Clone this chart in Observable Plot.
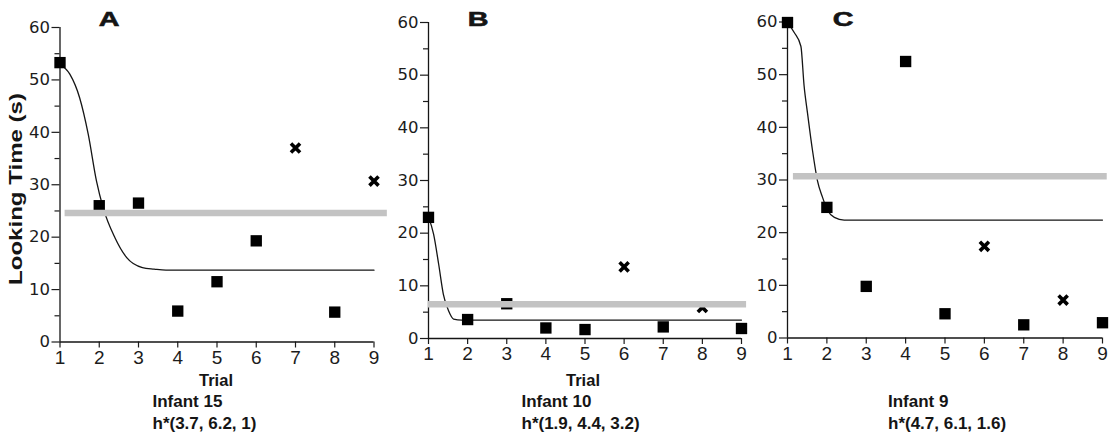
<!DOCTYPE html>
<html><head><meta charset="utf-8">
<script src="https://cdn.jsdelivr.net/npm/d3@7"></script>
<script src="https://cdn.jsdelivr.net/npm/@observablehq/plot@0.6"></script>
<style>
body{margin:0;background:#fff;}
#wrap{position:relative;width:1119px;height:435px;overflow:hidden;font-family:"Liberation Sans",Arial,sans-serif;color:#151515;}
.panel{position:absolute;top:0;}
.lbl{position:absolute;white-space:nowrap;line-height:1;font-weight:bold;}
</style></head><body><div id="wrap"></div>
<script>
// ---- shared ticks / labels ----
const trials = [1, 2, 3, 4, 5, 6, 7, 8, 9];
const yTicks = [0, 10, 20, 30, 40, 50, 60];
const yMinorTicks = [5, 15, 25, 35, 45, 55];
const panelLetters = ["A", "B", "C"];
const infantNames = ["Infant 15", "Infant 10", "Infant 9"];
const hParams = ["h*(3.7, 6.2, 1)", "h*(1.9, 4.4, 3.2)", "h*(4.7, 6.1, 1.6)"];
const yAxisTitle = "Looking Time (s)";
const xAxisTitle = "Trial";

// ---- Panel A (Infant 15) ----
const aSquareTrials = [1, 2, 3, 4, 5, 6, 8];
const aSquareTimes = [53.3, 26.0, 26.5, 5.9, 11.5, 19.3, 5.7];
const aCrossTrials = [7, 9];
const aCrossTimes = [37.0, 30.7];
const aCurveTrials = [1, 1.25, 1.5, 1.72, 1.93, 2.1, 2.4, 2.7, 3.1, 3.4, 3.7, 9];
const aCurveTimes = [53.0, 51.1, 46.6, 39.6, 30.7, 25.6, 19.9, 16.1, 14.2, 13.9, 13.7, 13.7];
const aMean = [24.6], aMeanFrom = [1.13], aMeanTo = [9.34];

// ---- Panel B (Infant 10) ----
const bSquareTrials = [1, 2, 3, 4, 5, 7, 9];
const bSquareTimes = [23.0, 3.6, 6.6, 2.0, 1.7, 2.2, 1.9];
const bCrossTrials = [6, 8];
const bCrossTimes = [13.6, 5.9];
const bCurveTrials = [1, 1.13, 1.26, 1.38, 1.51, 1.64, 1.85, 9];
const bCurveTimes = [23.1, 19.8, 14.1, 8.4, 5.3, 3.7, 3.5, 3.5];
const bMean = [6.5], bMeanFrom = [1.0], bMeanTo = [9.13];

// ---- Panel C (Infant 9) ----
const cSquareTrials = [1, 2, 3, 4, 5, 7, 9];
const cSquareTimes = [59.9, 24.8, 9.8, 52.5, 4.6, 2.5, 2.9];
const cCrossTrials = [6, 8];
const cCrossTimes = [17.4, 7.2];
const cCurveTrials = [1, 1.17, 1.34, 1.42, 1.51, 1.635, 1.76, 1.89, 2.02, 2.19, 2.44, 9];
const cCurveTimes = [60.0, 58.0, 55.4, 48.0, 42.6, 35.6, 29.9, 26.7, 24.2, 22.9, 22.4, 22.4];
const cMean = [30.7], cMeanFrom = [1.15], cMeanTo = [9.12];

const rows = (xs, ys) => xs.map((x, i) => ({trial: x, time: ys[i]}));
const meanRows = (lv, f, t) => lv.map((l, i) => ({level: l, from: f[i], to: t[i]}));

const panels = [
  {left: 0,   w: 395, ml: 59.5, mr: 21.5, mt: 27,   mb: 93.5,
   sq: rows(aSquareTrials, aSquareTimes), cr: rows(aCrossTrials, aCrossTimes),
   curve: rows(aCurveTrials, aCurveTimes), mean: meanRows(aMean, aMeanFrom, aMeanTo)},
  {left: 390, w: 360, ml: 38,   mr: 9,    mt: 22,   mb: 97,
   sq: rows(bSquareTrials, bSquareTimes), cr: rows(bCrossTrials, bCrossTimes),
   curve: rows(bCurveTrials, bCurveTimes), mean: meanRows(bMean, bMeanFrom, bMeanTo)},
  {left: 750, w: 369, ml: 37,   mr: 17,   mt: 21.5, mb: 97.5,
   sq: rows(cSquareTrials, cSquareTimes), cr: rows(cCrossTrials, cCrossTimes),
   curve: rows(cCurveTrials, cCurveTimes), mean: meanRows(cMean, cMeanFrom, cMeanTo)}
];

const wrap = document.getElementById("wrap");

panels.forEach(p => {
  const chart = Plot.plot({
    width: p.w, height: 435,
    marginLeft: p.ml, marginRight: p.mr, marginTop: p.mt, marginBottom: p.mb,
    style: {background: "transparent", overflow: "visible", color: "#1c1c1c"},
    x: {domain: [1, 9]},
    y: {domain: [0, 60]},
    marks: [
      Plot.axisY({ticks: yTicks, tickSize: 8, tickPadding: 2, fontSize: 16.5, fontFamily: "DejaVu Sans", label: null, strokeWidth: 1.2}),
      Plot.axisY({ticks: yMinorTicks, tickSize: 5, tickFormat: () => "", label: null, strokeWidth: 1.2}),
      Plot.axisX({ticks: trials, tickSize: 6, tickPadding: 2, fontSize: 19, fontFamily: "Liberation Sans", label: null, strokeWidth: 1.2}),
      Plot.ruleX([1], {y1: 0, y2: 60, stroke: "#151515", strokeWidth: 1.3}),
      Plot.ruleY([0], {x1: 1, x2: 9, stroke: "#151515", strokeWidth: 1.3}),
      Plot.line(p.curve, {x: "trial", y: "time", curve: "monotone-x", stroke: "#151515", strokeWidth: 1.3}),
      Plot.dot(p.sq, {x: "trial", y: "time", symbol: "square", r: 6.4, fill: "#000"}),
      Plot.dot(p.cr, {x: "trial", y: "time", symbol: "times", r: 4.2, stroke: "#000", strokeWidth: 3.6}),
      Plot.ruleY(p.mean, {y: "level", x1: "from", x2: "to", stroke: "#c3c3c3", strokeWidth: 6.5})
    ]
  });
  chart.classList.add("panel");
  chart.style.left = p.left + "px";
  wrap.appendChild(chart);
});

function addLabel(text, left, top, size, extra) {
  const d = document.createElement("div");
  d.className = "lbl";
  d.textContent = text;
  d.style.left = left + "px";
  d.style.top = top + "px";
  d.style.fontSize = size + "px";
  if (extra) Object.assign(d.style, extra);
  wrap.appendChild(d);
  return d;
}

// panel letters
const letterX = [109, 478, 843];
panelLetters.forEach((t, i) => addLabel(t, letterX[i], 8.5, 20.5, {transform: "translateX(-50%) scaleX(1.4)", WebkitTextStroke: "0.6px #151515"}));

// y axis title (panel A only)
addLabel(yAxisTitle, 16, 189, 18.5, {transform: "translate(-50%,-50%) rotate(-90deg) scaleX(1.3)"});

// x axis titles (panels A and B)
[216, 583].forEach(x => addLabel(xAxisTitle, x, 372, 16.5, {transform: "translateX(-50%)"}));

// captions
const capX = [152.5, 521.5, 888];
infantNames.forEach((t, i) => addLabel(t, capX[i], 392.6, 17));
hParams.forEach((t, i) => addLabel(t, capX[i], 415, 17));
</script></body></html>
